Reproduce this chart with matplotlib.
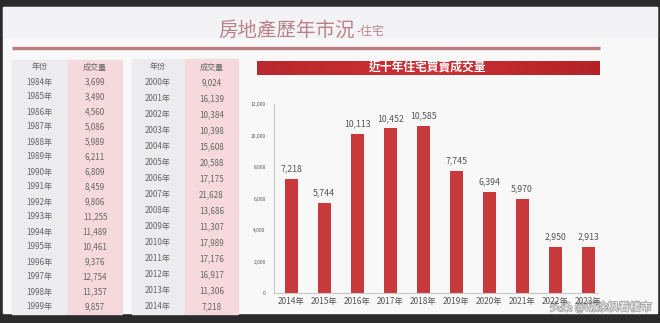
import matplotlib.pyplot as plt
import matplotlib.patheffects as pe
from matplotlib.patches import Rectangle
from matplotlib.colors import LinearSegmentedColormap
import numpy as np

plt.rcParams['font.family'] = ['Noto Sans CJK TC', 'DejaVu Sans']

# historical table, 1984-2014
years_a = [str(y) + '年' for y in range(1984, 2000)]
volume_a = [3699, 3490, 4560, 5086, 5989, 6211, 6809, 8459,
            9806, 11255, 11489, 10461, 9376, 12754, 11357, 9857]
years_b = [str(y) + '年' for y in range(2000, 2015)]
volume_b = [9024, 16139, 10384, 10398, 15608, 20588, 17175, 21628,
            13686, 11307, 17989, 17176, 16917, 11306, 7218]

# last ten years, bar chart
bar_years = ['2014年', '2015年', '2016年', '2017年', '2018年',
             '2019年', '2020年', '2021年', '2022年', '2023年']
bar_values = [7218, 5744, 10113, 10452, 10585, 7745, 6394, 5970, 2950, 2913]

W, H = 660, 323
fig = plt.figure(figsize=(W / 100, H / 100), dpi=100)
fig.patch.set_facecolor('#2b2b2b')

# background canvas in pixel coords
bg = fig.add_axes([0, 0, 1, 1])
bg.set_xlim(0, W)
bg.set_ylim(H, 0)
bg.axis('off')
bg.add_patch(Rectangle((3, 7), 654, 306, color='#f8f8f9', zorder=0))
bg.add_patch(Rectangle((3, 7), 654, 30, color='#efeff2', zorder=0, alpha=0.5))

# title
bg.text(355, 30, '房地產歷年市況', fontsize=14, color='#b8828b',
        ha='right', va='center')
bg.text(356, 32, '-住宅', fontsize=8.5, color='#b8828b', ha='left', va='center')
bg.plot([12, 600], [47.5, 47.5], color='#b97f80', lw=2.4, solid_capstyle='butt')


def draw_table(x_year, w_year, x_val, w_val, years, vols, top0, row_h):
    rows = [('年份', '成交量')] + [(y, f'{v:,}') for y, v in zip(years, vols)]
    for i, (a, b) in enumerate(rows):
        top = top0 + i * row_h
        bg.add_patch(Rectangle((x_year, top), w_year, row_h - 1,
                               color='#ececee', zorder=1))
        bg.add_patch(Rectangle((x_val, top), w_val, row_h - 1,
                               color='#f5d9dd', zorder=1))
        cy = top + row_h / 2
        bg.text(x_year + w_year / 2, cy, a, fontsize=5.8, color='#666666',
                ha='center', va='center', zorder=2)
        bg.text(x_val + w_val / 2, cy, b, fontsize=5.8, color='#666666',
                ha='center', va='center', zorder=2)


draw_table(12, 55, 68, 54, years_a, volume_a, 59.5, 15)
draw_table(132, 52, 185, 53, years_b, volume_b, 59, 16)

# red banner for chart title
grad = np.linspace(0, 1, 256).reshape(1, -1)
cmap = LinearSegmentedColormap.from_list('banner', ['#b8282c', '#c93236', '#b22226'])
bg.imshow(grad, cmap=cmap, extent=[257, 600, 75, 61], aspect='auto', zorder=1)
bg.text(428, 68.5, '近十年住宅買賣成交量', fontsize=8.5, color='white',
        fontweight='bold', ha='center', va='center', zorder=2)

# bar chart
ax = fig.add_axes([274 / W, (H - 293) / H, (598 - 274) / W, 189 / H])
ax.set_facecolor('none')
x = np.arange(len(bar_values))
ax.bar(x, bar_values, width=0.4, color='#c8393c')
ax.set_xlim(-0.52, 9.3)
ax.set_ylim(0, 12000)
ax.set_yticks(range(0, 12001, 2000))
ax.set_yticklabels([f'{v:,}' for v in range(0, 12001, 2000)])
ax.set_xticks(x)
ax.set_xticklabels(bar_years)
ax.tick_params(axis='y', labelsize=3.5, colors='#555555', length=0, pad=6)
ax.tick_params(axis='x', labelsize=6, colors='#555555', length=0, pad=3)
for s in ['top', 'right']:
    ax.spines[s].set_visible(False)
for s in ['left', 'bottom']:
    ax.spines[s].set_color('#c8c8c8')
    ax.spines[s].set_linewidth(0.8)
for xi, v in zip(x, bar_values):
    ax.annotate(f'{v:,}', (xi, v), xytext=(0, 4), textcoords='offset points',
                ha='center', va='bottom', fontsize=6.3, color='#555555')

# watermark
bg.text(652, 307, '头条 @胡涂枫看楼市', fontsize=8, color='#ffffff', alpha=0.9,
        ha='right', va='center', zorder=5,
        path_effects=[pe.withStroke(linewidth=1.2, foreground='#9a9a9a')])

fig.savefig('out.png', dpi=100, facecolor=fig.get_facecolor())
